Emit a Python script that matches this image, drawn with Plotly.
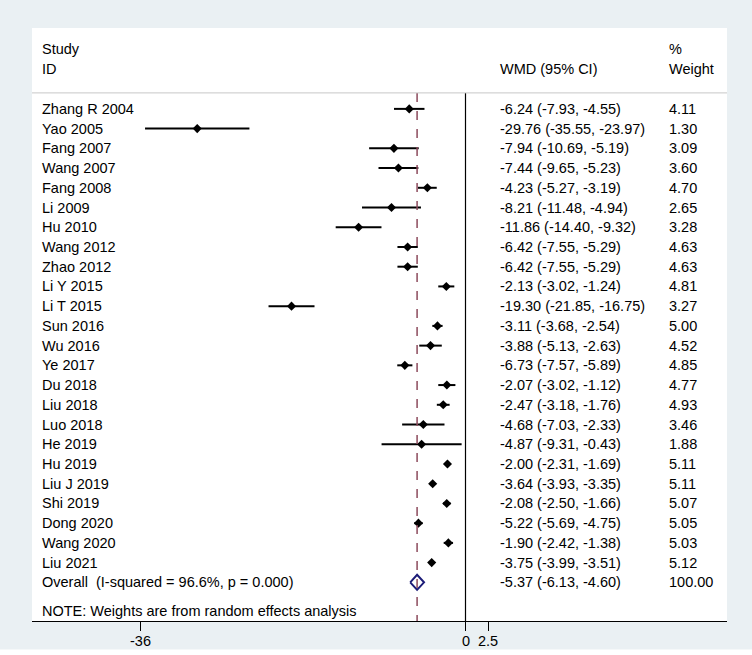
import plotly.graph_objects as go

studies = ["Zhang R 2004", "Yao 2005", "Fang 2007", "Wang 2007", "Fang 2008", "Li 2009",
           "Hu 2010", "Wang 2012", "Zhao 2012", "Li Y 2015", "Li T 2015", "Sun 2016",
           "Wu 2016", "Ye 2017", "Du 2018", "Liu 2018", "Luo 2018", "He 2019", "Hu 2019",
           "Liu J 2019", "Shi 2019", "Dong 2020", "Wang 2020", "Liu 2021"]
wmd = [-6.24, -29.76, -7.94, -7.44, -4.23, -8.21, -11.86, -6.42, -6.42, -2.13, -19.30, -3.11,
       -3.88, -6.73, -2.07, -2.47, -4.68, -4.87, -2.00, -3.64, -2.08, -5.22, -1.90, -3.75]
ci_low = [-7.93, -35.55, -10.69, -9.65, -5.27, -11.48, -14.40, -7.55, -7.55, -3.02, -21.85, -3.68,
          -5.13, -7.57, -3.02, -3.18, -7.03, -9.31, -2.31, -3.93, -2.50, -5.69, -2.42, -3.99]
ci_high = [-4.55, -23.97, -5.19, -5.23, -3.19, -4.94, -9.32, -5.29, -5.29, -1.24, -16.75, -2.54,
           -2.63, -5.89, -1.12, -1.76, -2.33, -0.43, -1.69, -3.35, -1.66, -4.75, -1.38, -3.51]
weights = [4.11, 1.30, 3.09, 3.60, 4.70, 2.65, 3.28, 4.63, 4.63, 4.81, 3.27, 5.00,
           4.52, 4.85, 4.77, 4.93, 3.46, 1.88, 5.11, 5.11, 5.07, 5.05, 5.03, 5.12]
overall_label = "Overall  (I-squared = 96.6%, p = 0.000)"
overall = -5.37
overall_low = -6.13
overall_high = -4.60
overall_weight = 100.00
note_text = "NOTE: Weights are from random effects analysis"
tick_vals = [-36, 0, 2.5]
tick_text = ["-36", "0", "2.5"]

FONT = "Liberation Sans, Arial, sans-serif"
FS = 14.5

rows = list(range(1, len(studies) + 1))
overall_row = len(studies) + 1
note_row = 26.47
header_line_row = 0.19
y_bottom = 26.96
y_top = -3.10
col_study = -47.15
col_wmd = 3.66
col_weight = 22.3

fig = go.Figure()

# reference lines
fig.add_shape(type="line", x0=0, x1=0, y0=header_line_row, y1=y_bottom, xref="x", yref="y",
              line=dict(color="black", width=1.2))
fig.add_shape(type="line", x0=overall, x1=overall, y0=header_line_row, y1=y_bottom, xref="x", yref="y",
              line=dict(color="#8c4a5c", width=1.5, dash="dash"))
fig.add_shape(type="line", x0=0, x1=1, y0=header_line_row, y1=header_line_row, xref="paper", yref="y",
              line=dict(color="#c8c8c8", width=1))
# thin white strip below the grey graph region
fig.add_shape(type="rect", x0=-0.05, x1=1.05, y0=-0.06, y1=-0.048, xref="paper", yref="paper",
              line=dict(width=0), fillcolor="white", layer="below")

# CI lines
cx, cy = [], []
for r, l, h in zip(rows, ci_low, ci_high):
    cx += [l, h, None]
    cy += [r, r, None]
fig.add_trace(go.Scatter(x=cx, y=cy, mode="lines", line=dict(color="black", width=2),
                         hoverinfo="skip", showlegend=False))
fig.add_trace(go.Scatter(x=wmd, y=rows, mode="markers",
                         marker=dict(symbol="diamond", size=7, color="black"),
                         showlegend=False))

# overall diamond
dh = 0.38
fig.add_trace(go.Scatter(x=[overall_low, overall, overall_high, overall, overall_low],
                         y=[overall_row, overall_row - dh, overall_row, overall_row + dh, overall_row],
                         mode="lines", line=dict(color="#1c1c78", width=2), showlegend=False))

anns = []
def txt(x, y, s):
    anns.append(dict(x=x, y=y, xref="x", yref="y", text=s, showarrow=False,
                     xanchor="left", yanchor="middle", font=dict(family=FONT, size=FS, color="black")))

txt(col_study, -2.02, "Study")
txt(col_study, -1.03, "ID")
txt(col_wmd, -1.03, "WMD (95% CI)")
txt(col_weight, -2.02, "%")
txt(col_weight, -1.03, "Weight")
for r, s, m, l, h, w in zip(rows, studies, wmd, ci_low, ci_high, weights):
    txt(col_study, r, s)
    txt(col_wmd, r, f"{m:.2f} ({l:.2f}, {h:.2f})")
    txt(col_weight, r, f"{w:.2f}")
txt(col_study, overall_row, overall_label)
txt(col_wmd, overall_row, f"{overall:.2f} ({overall_low:.2f}, {overall_high:.2f})")
txt(col_weight, overall_row, f"{overall_weight:.2f}")
txt(col_study, note_row, note_text)

# tick labels
for tv, tt in zip(tick_vals, tick_text):
    anns.append(dict(x=tv, y=-0.0329, xref="x", yref="paper", text=tt, showarrow=False,
                     xanchor="center", yanchor="middle",
                     font=dict(family=FONT, size=FS, color="black")))

fig.update_layout(
    width=752, height=655,
    margin=dict(l=32, r=25, t=28, b=33.5, autoexpand=False),
    paper_bgcolor="#eaf0f3", plot_bgcolor="white",
    annotations=anns, showlegend=False,
    xaxis=dict(range=[-48.09, 29.01], showgrid=False, zeroline=False, showline=True,
               linecolor="black", linewidth=1, ticks="outside", ticklen=9, tickcolor="black",
               tickvals=tick_vals, ticktext=tick_text, showticklabels=False, automargin=False,
               fixedrange=True),
    yaxis=dict(range=[y_bottom, y_top], showgrid=False, zeroline=False, showticklabels=False,
               showline=False, fixedrange=True, automargin=False),
)

fig.write_html("out.html", config={"displayModeBar": False},
               post_script="document.body.style.margin='0';document.body.style.overflow='hidden';"
                           "document.body.style.background='white';")
